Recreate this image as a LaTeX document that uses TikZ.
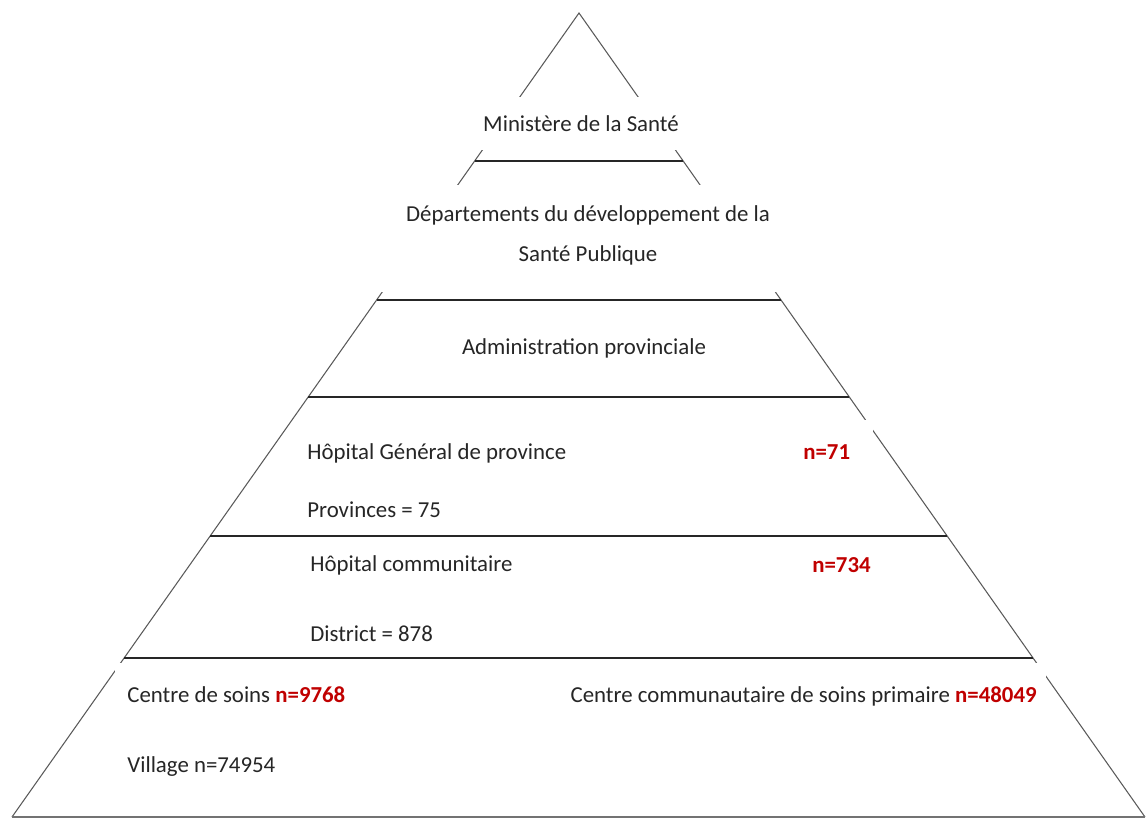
\documentclass[tikz,border=0pt]{standalone}
\usepackage{fontspec}
\setmainfont{Carlito}
\usepackage{xcolor}
\usetikzlibrary{calc}
\definecolor{countred}{RGB}{192,0,0}
\tikzset{
  side/.style={draw=black!65, line width=0.6pt},
  tier/.style={draw=black!85, line width=1.1pt},
  baseline edge/.style={draw=black!55, line width=1.5pt},
  levtext/.style={font=\fontsize{13}{16}\selectfont, text=black!85, inner sep=0pt,
    text height=0.72em, text depth=0.22em},
  counttext/.style={levtext, text=countred, font=\fontsize{13}{16}\selectfont\bfseries},
}
\begin{document}
\begin{tikzpicture}[x=0.02cm, y=-0.02cm]
  \useasboundingbox (0,0) rectangle (1147,819);
  % pyramid outline
  \coordinate (apex) at (579,13);
  \coordinate (bl) at (12,817);
  \coordinate (br) at (1145,817);
  \draw[side] (bl) -- (apex) -- (br);
  \draw[baseline edge] (bl) -- (br);
  % horizontal tiers
  \foreach \t in {0.1841,0.357,0.4776,0.6505,0.8022} {
    \draw[tier] ($(apex)!\t!(bl)$) -- ($(apex)!\t!(br)$);
  }
  % white text boxes hiding the sides
  \fill[white] (470,97) rectangle (690,150);
  \fill[white] (380,185) rectangle (780,292);
  \fill[white] (300,420) rectangle (873,530);
  \fill[white] (115,663) rectangle (1046,800);
  % levels
  \node[levtext] (ministere) at (581,127) {Ministère de la Santé};
  \node[levtext] (departements) at (588,217) {Départements du développement de la};
  \node[levtext] (publique) at (588,257) {Santé Publique};
  \node[levtext] (admin) at (584,350) {Administration provinciale};
  \node[levtext, anchor=west] (hgp) at (307,455) {Hôpital Général de province};
  \node[counttext, anchor=west] (hgpn) at (803,455) {n=71};
  \node[levtext, anchor=west] (provinces) at (307,513) {Provinces = 75};
  \node[levtext, anchor=west] (hc) at (310,567) {Hôpital communitaire};
  \node[counttext, anchor=west] (hcn) at (812,568) {n=734};
  \node[levtext, anchor=west] (district) at (310,637) {District = 878};
  \node[levtext, anchor=west] (cs) at (127,698) {Centre de soins \textcolor{countred}{\bfseries n=9768}};
  \node[levtext, anchor=east] (ccsp) at (1037,698) {Centre communautaire de soins primaire \textcolor{countred}{\bfseries n=48049}};
  \node[levtext, anchor=west] (village) at (127,768) {Village n=74954};
\end{tikzpicture}
\end{document}
